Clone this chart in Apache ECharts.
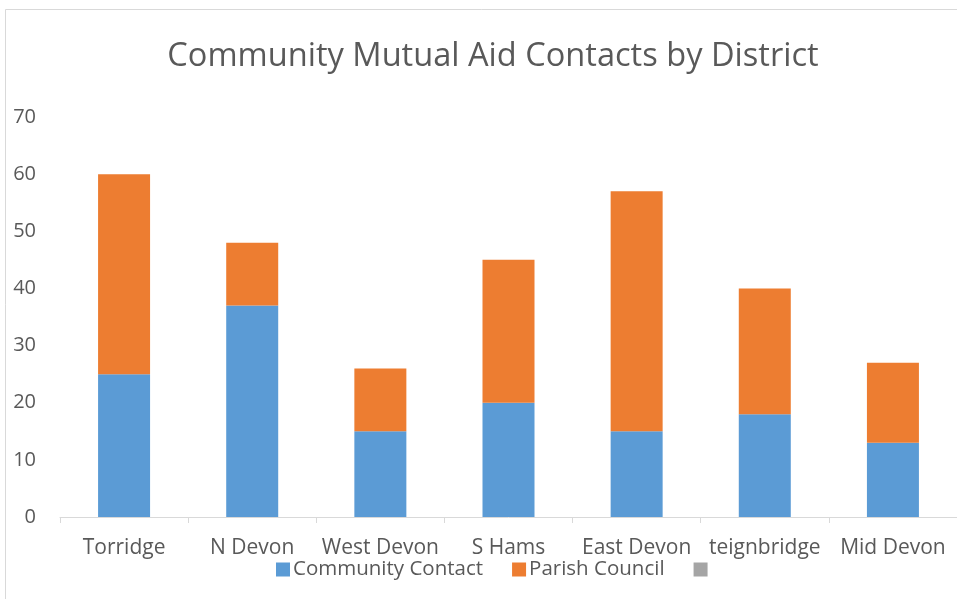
<!DOCTYPE html>
<html>
<head>
<meta charset="utf-8">
<script src="https://cdn.jsdelivr.net/npm/echarts@6/dist/echarts.min.js"></script>
<style>html,body{margin:0;padding:0;background:#fff;}#c{width:957px;height:599px;}</style>
</head>
<body>
<div id="c"></div>
<script>
var categories = ['Torridge', 'N Devon', 'West Devon', 'S Hams', 'East Devon', 'teignbridge', 'Mid Devon'];
var communityContact = [25, 37, 15, 20, 15, 18, 13];
var parishCouncil = [35, 11, 11, 25, 42, 22, 14];
var thirdSeries = [];
var yTicks = [0, 10, 20, 30, 40, 50, 60, 70];

var FONT = '"Open Sans", sans-serif';
var chart = echarts.init(document.getElementById('c'));
chart.setOption({
  animation: false,
  backgroundColor: '#fff',
  title: {
    text: 'Community Mutual Aid Contacts by District',
    left: 488, top: 35, textAlign: 'center',
    textStyle: { fontFamily: FONT, fontSize: 32.6, fontWeight: 'normal', color: '#595959' }
  },
  legend: {
    data: ['Community Contact', 'Parish Council', ' '],
    left: 271, top: 554,
    icon: 'rect', itemWidth: 14, itemHeight: 14, itemGap: 29,
    textStyle: { fontFamily: FONT, fontSize: 20.5, color: '#595959', padding: [0,0,0,-2] }
  },
  grid: { left: 60, top: 117, width: 903, height: 400, containLabel: false },
  xAxis: {
    type: 'category', data: categories,
    axisLine: { lineStyle: { color: '#D9D9D9', width: 1 } },
    axisTick: { show: true, length: 6, lineStyle: { color: '#D9D9D9' } },
    axisLabel: { fontFamily: FONT, fontSize: 21, color: '#595959', margin: 21, interval: 0 }
  },
  yAxis: {
    type: 'value', min: 0, max: 70, interval: 10,
    axisLine: { show: false }, axisTick: { show: false },
    splitLine: { show: false },
    axisLabel: { fontFamily: FONT, fontSize: 20, color: '#595959', margin: 24,
      formatter: function (v) { return yTicks.indexOf(v) >= 0 ? String(v) : ''; } }
  },
  graphic: [{
    type: 'rect', shape: { x: 5.5, y: 9.5, width: 1000, height: 1000 },
    style: { fill: 'none', stroke: '#D9D9D9', lineWidth: 1 }, silent: true, z: -1
  }],
  series: [
    { name: 'Community Contact', type: 'bar', stack: 's', data: communityContact, barWidth: 52, itemStyle: { color: '#5B9BD5' } },
    { name: 'Parish Council', type: 'bar', stack: 's', data: parishCouncil, barWidth: 52, itemStyle: { color: '#ED7D31' } },
    { name: ' ', type: 'bar', stack: 's', data: thirdSeries, barWidth: 52, itemStyle: { color: '#A5A5A5' } }
  ]
});
</script>
</body>
</html>
